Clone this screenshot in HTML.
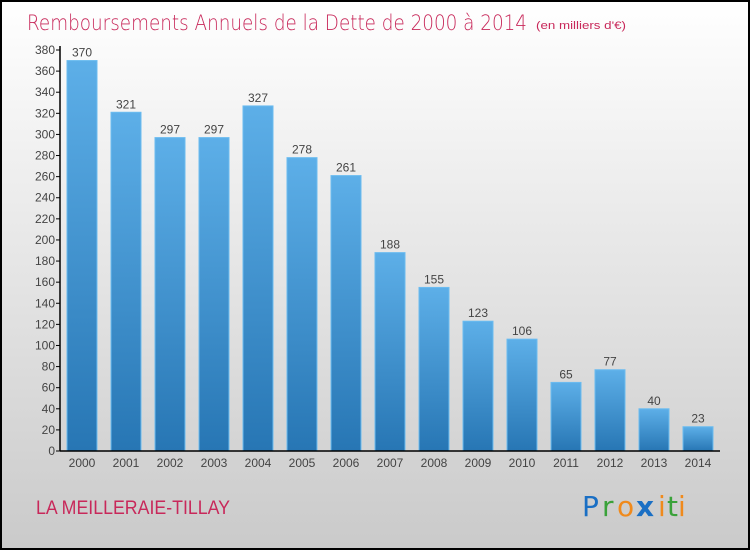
<!DOCTYPE html>
<html><head><meta charset="utf-8"><style>
body{margin:0;}
#c{width:750px;height:550px;position:relative;overflow:hidden;font-family:"Liberation Sans",sans-serif;}
</style></head><body>
<div id="c">
<svg width="750" height="550" xmlns="http://www.w3.org/2000/svg" id="svg">
<defs>
<linearGradient id="bg" x1="0" y1="0" x2="0" y2="1"><stop offset="0" stop-color="#ffffff"/><stop offset="1" stop-color="#cacaca"/></linearGradient>
<linearGradient id="bar" x1="0" y1="0" x2="0" y2="1"><stop offset="0" stop-color="#5dafe8"/><stop offset="1" stop-color="#2776b4"/></linearGradient>
</defs>
<rect x="1" y="1" width="748" height="548" fill="url(#bg)" stroke="#000" stroke-width="2"/>
<text x="27" y="30" font-size="21" fill="#c8285a" style="font-family:'DejaVu Sans',sans-serif;font-weight:200" textLength="500" lengthAdjust="spacingAndGlyphs">Remboursements Annuels de la Dette de 2000 à 2014</text>
<text x="536" y="29" font-size="11" fill="#c8285a" textLength="90" lengthAdjust="spacingAndGlyphs">(en milliers d'€)</text>
<g id="plot"></g>
<text x="36" y="514" font-size="19" fill="#c8285a" textLength="194" lengthAdjust="spacingAndGlyphs">LA MEILLERAIE-TILLAY</text>
<g font-size="28" style="font-family:'DejaVu Sans',sans-serif">
<text x="582" y="516" fill="#1a6fc4">P</text><text x="602" y="516" fill="#3aa23a">r</text><text x="617" y="516" fill="#f08a1c">o</text><text x="636" y="516" fill="#1a6fc4" font-weight="bold">x</text><text x="658" y="516" fill="#f08a1c">i</text><text x="667" y="516" fill="#3aa23a">t</text><text x="678" y="516" fill="#f08a1c">i</text>
</g>
</svg>
</div>
<script>
const categories=["2000","2001","2002","2003","2004","2005","2006","2007","2008","2009","2010","2011","2012","2013","2014"];
const values=[370,321,297,297,327,278,261,188,155,123,106,65,77,40,23];
const yTicks=[0,20,40,60,80,100,120,140,160,180,200,220,240,260,280,300,320,340,360,380];
const NS="http://www.w3.org/2000/svg";
const g=document.getElementById('plot');
const y0=451,yTop=50,yMax=380,xL=60,xR=720;
function yS(v){return y0-v*(y0-yTop)/yMax;}
function xS(i){return 82+i*44;}
function el(t,a){const e=document.createElementNS(NS,t);for(const k in a)e.setAttribute(k,a[k]);g.appendChild(e);return e;}
yTicks.forEach(t=>{
  const l=el('line',{x1:xL-4,x2:xL,y1:yS(t),y2:yS(t),stroke:'#000'});
  
  
  const tx=el('text',{x:xL-5,y:yS(t)+4,'font-size':12,'text-anchor':'end',fill:'#444'});
  tx.textContent=t;
  
  
});
categories.forEach((c,i)=>{
  const v=values[i];
  const b=el('rect',{x:xS(i)-15,y:yS(v),width:30,height:y0-yS(v),fill:'url(#bar)',stroke:'#6bbcf0','stroke-width':1});
  
  
  const vl=el('text',{x:xS(i),y:yS(v)-4,'font-size':12,'text-anchor':'middle',fill:'#444'});
  vl.textContent=v;
  
  
  const xl=el('text',{x:xS(i),y:y0+16,'font-size':12,'text-anchor':'middle',fill:'#444'});
  xl.textContent=c;
  
  
});
const ya=el('line',{x1:xL,x2:xL,y1:yTop-4,y2:y0,stroke:'#000','stroke-width':1.5});


const xa=el('line',{x1:xL,x2:xR,y1:y0,y2:y0,stroke:'#000','stroke-width':1.5});


</script>
</body></html>
